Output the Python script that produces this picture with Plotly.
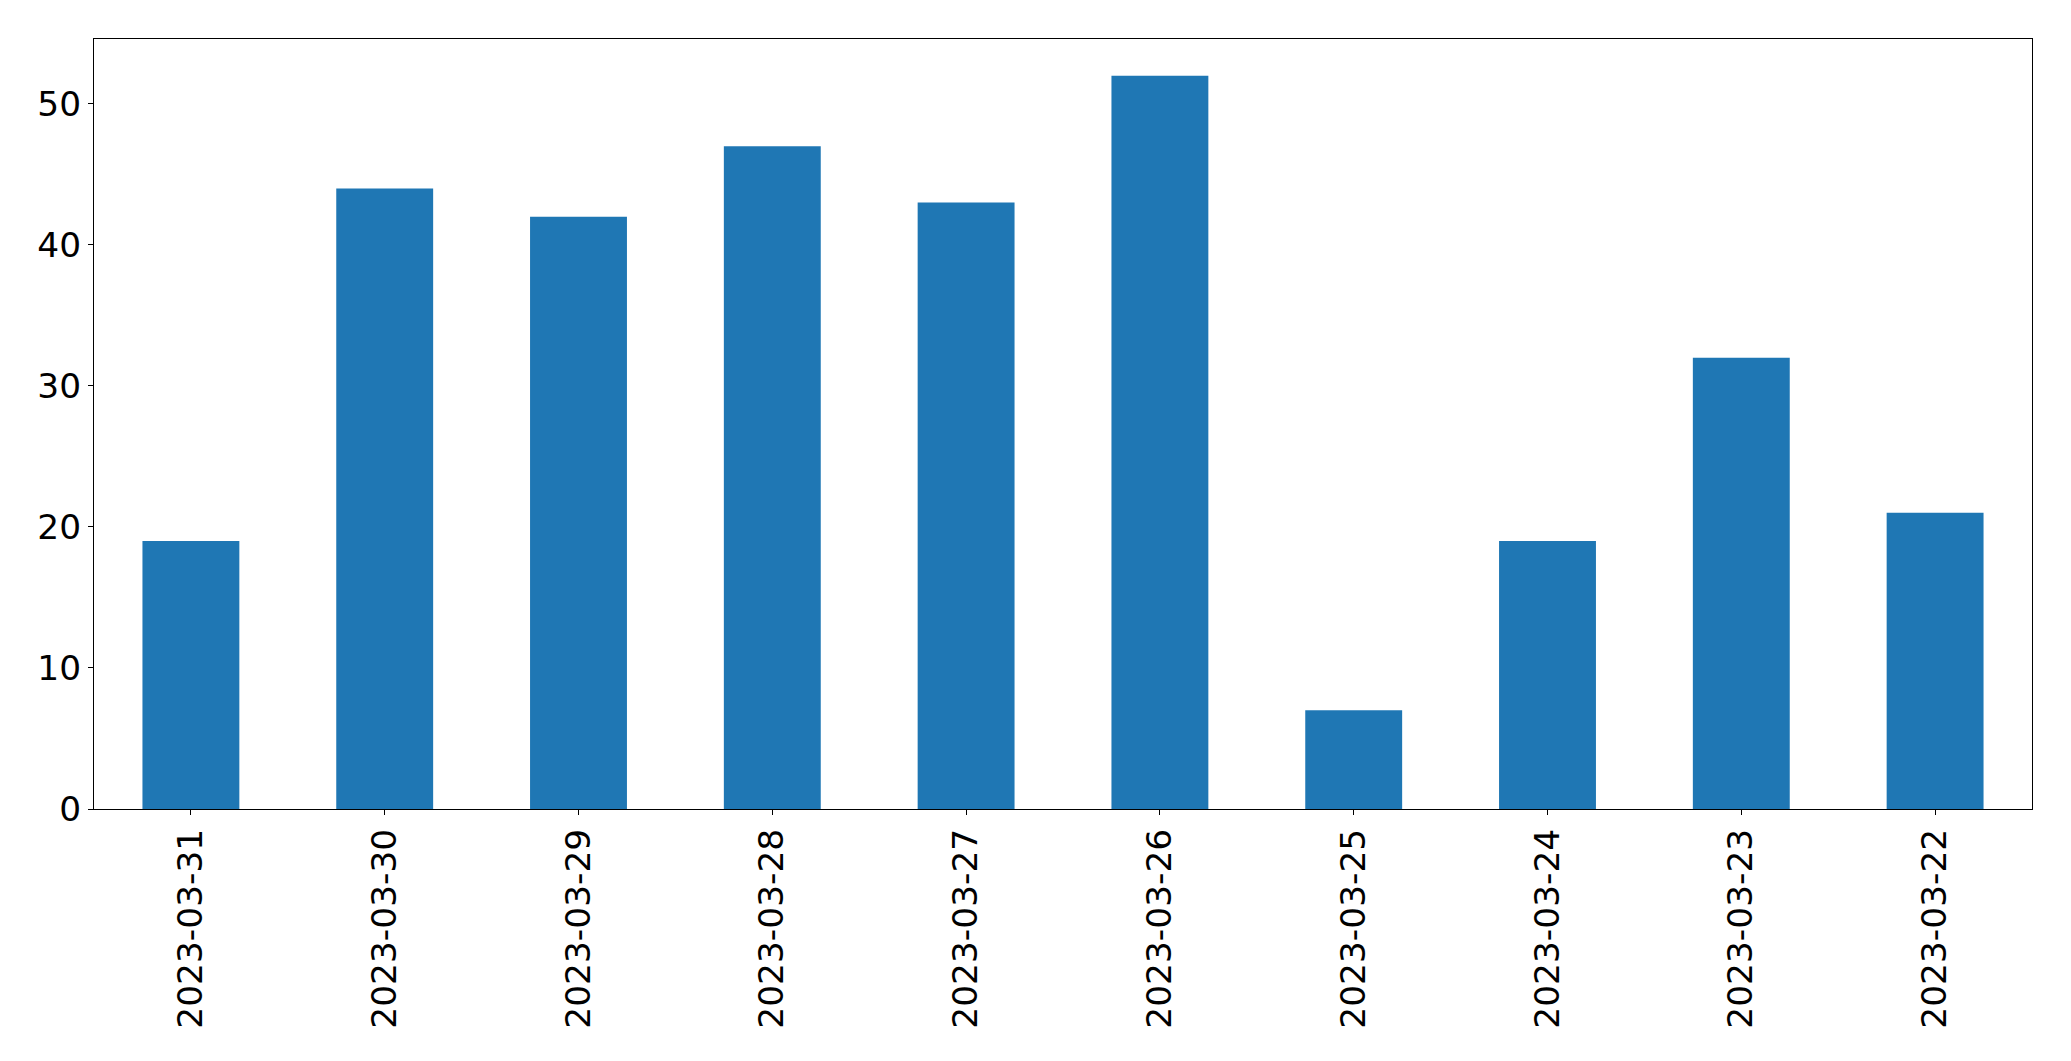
import plotly.graph_objects as go

dates = ["2023-03-31", "2023-03-30", "2023-03-29", "2023-03-28", "2023-03-27",
         "2023-03-26", "2023-03-25", "2023-03-24", "2023-03-23", "2023-03-22"]
counts = [19, 44, 42, 47, 43, 52, 7, 19, 32, 21]
y_ticks = [0, 10, 20, 30, 40, 50]

fig = go.Figure(go.Bar(x=dates, y=counts, width=0.5, marker=dict(color="#1f77b4", line=dict(width=0))))

fig.update_layout(
    width=2071, height=1061,
    margin=dict(l=94, r=39, t=39, b=252),
    plot_bgcolor="white", paper_bgcolor="white",
    font=dict(family="DejaVu Sans", size=34.4, color="black"),
    showlegend=False,
    bargap=0.5,
)
fig.update_xaxes(
    type="category", range=[-0.5, 9.5], tickangle=-90,
    showline=True, mirror=True, linecolor="black", linewidth=1.1,
    ticks="outside", ticklen=5, tickwidth=1.1, tickcolor="black",
    showgrid=False, zeroline=False,
    tickfont=dict(family="DejaVu Sans", size=34.4, color="black"),
)
fig.update_yaxes(
    range=[0, 54.6], tickvals=y_ticks,
    showline=True, mirror=True, linecolor="black", linewidth=1.1,
    ticks="outside", ticklen=5, tickwidth=1.1, tickcolor="black",
    showgrid=False, zeroline=False,
    tickfont=dict(family="DejaVu Sans", size=34.4, color="black"),
)

fig.write_html("out.html")
